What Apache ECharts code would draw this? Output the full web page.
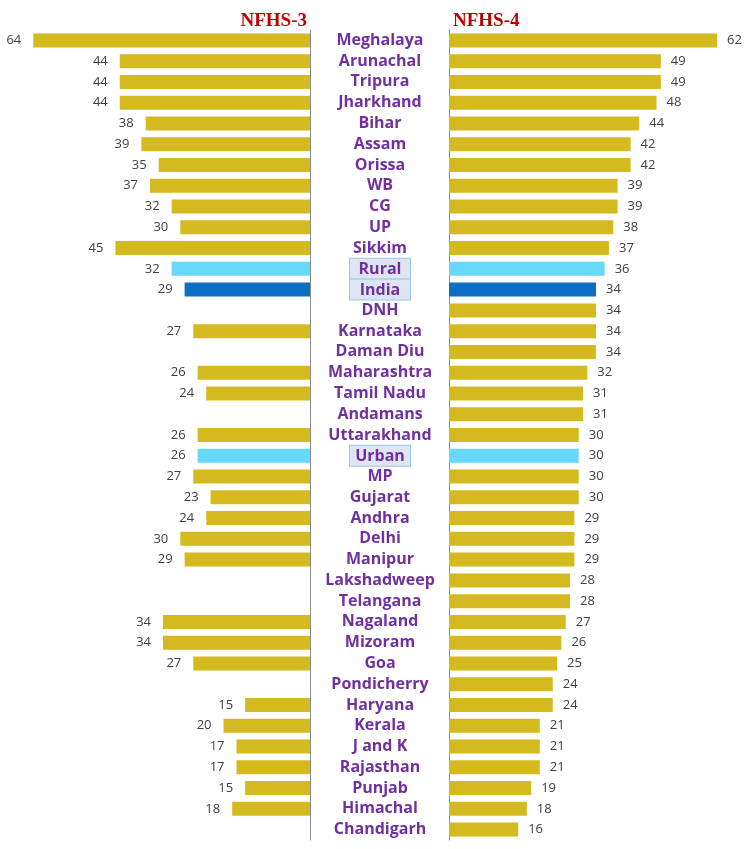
<!DOCTYPE html>
<head>
  <script src="https://cdn.jsdelivr.net/npm/echarts@6/dist/echarts.min.js"></script>
  <style>
    html,body{margin:0;padding:0;background:#fff;}
    #chart{width:748px;height:849px;}
  </style>
</head>
<body>
  <div id="chart"></div>
  <script>
    var states = ['Meghalaya','Arunachal','Tripura','Jharkhand','Bihar','Assam','Orissa','WB','CG','UP',
      'Sikkim','Rural','India','DNH','Karnataka','Daman Diu','Maharashtra','Tamil Nadu','Andamans','Uttarakhand',
      'Urban','MP','Gujarat','Andhra','Delhi','Manipur','Lakshadweep','Telangana','Nagaland','Mizoram',
      'Goa','Pondicherry','Haryana','Kerala','J and K','Rajasthan','Punjab','Himachal','Chandigarh'];
    var nfhs3 = [64,44,44,44,38,39,35,37,32,30,
      45,32,29,null,27,null,26,24,null,26,
      26,27,23,24,30,29,null,null,34,34,
      27,null,15,20,17,17,15,18,null];
    var nfhs4 = [62,49,49,48,44,42,42,39,39,38,
      37,36,34,34,34,34,32,31,31,30,
      30,30,30,29,29,29,28,28,27,26,
      25,24,24,21,21,21,19,18,16];
    var boxed = ['Rural','India','Urban'];

    var gold = '#d5ba1f', lightBlue = '#66d8fc', darkBlue = '#0b6ec4';
    function colorFor(name){
      if(name=='Rural' || name=='Urban') return lightBlue;
      if(name=='India') return darkBlue;
      return gold;
    }
    function build(vals){
      return vals.map(function(v,i){
        return v==null ? '-' : {value:v, itemStyle:{color:colorFor(states[i])}};
      });
    }

    var chart = echarts.init(document.getElementById('chart'));
    var labelFont = {fontFamily:'Open Sans', fontSize:13, color:'#404040'};
    var titleFont = {fontFamily:'Liberation Serif', fontWeight:'bold', fontSize:19, color:'#c00000'};
    var option = {
      animation:false,
      title:[
        {text:'NFHS-3', right:436, top:1, textStyle:titleFont},
        {text:'NFHS-4', left:448, top:1, textStyle:titleFont}
      ],
      grid:[
        {left:16, width:294, top:30, height:810},
        {left:449, width:294, top:30, height:810}
      ],
      xAxis:[
        {gridIndex:0, type:'value', min:0, max:68, inverse:true, show:false},
        {gridIndex:1, type:'value', min:0, max:68, show:false}
      ],
      yAxis:[
        {gridIndex:0, type:'category', data:states, inverse:true,
          axisLine:{show:true, lineStyle:{color:'#8c8c8c', width:1}},
          axisTick:{show:false}, axisLabel:{show:false}},
        {gridIndex:1, type:'category', data:states, inverse:true,
          axisLine:{show:true, lineStyle:{color:'#8c8c8c', width:1}},
          axisTick:{show:false},
          axisLabel:{
            show:true, interval:0, align:'center', margin:69,
            fontFamily:'Open Sans', fontWeight:'bold', fontSize:16, color:'#7030a0',
            formatter:function(v){
              return boxed.indexOf(v)>=0 ? '{box|'+v+'}' : v;
            },
            rich:{
              box:{fontFamily:'Open Sans', fontWeight:'bold', fontSize:16, color:'#7030a0',
                backgroundColor:'#dde5f2', borderColor:'#9dc3e6', borderWidth:1,
                width:56, height:19, lineHeight:19, align:'center', padding:[1,2,0,2]}
            }
          }}
      ],
      series:[
        {name:'NFHS-3', type:'bar', xAxisIndex:0, yAxisIndex:0, data:build(nfhs3),
          barWidth:14,
          label:Object.assign({show:true, position:'left', distance:12}, labelFont)},
        {name:'NFHS-4', type:'bar', xAxisIndex:1, yAxisIndex:1, data:build(nfhs4),
          barWidth:14,
          label:Object.assign({show:true, position:'right', distance:10}, labelFont)}
      ]
    };
    chart.setOption(option);
  </script>
</body>
